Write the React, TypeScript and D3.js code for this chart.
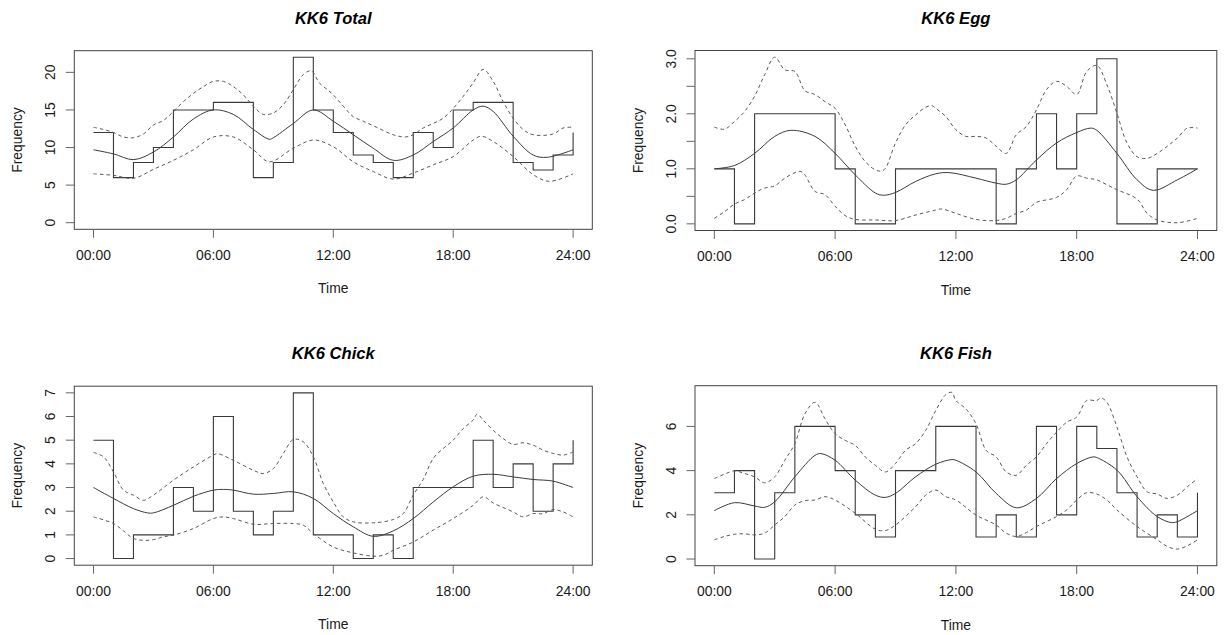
import React, { useEffect, useRef } from "react";
import * as d3 from "d3";

// hourly counts (bins 0-1, 1-2, ... 23-24)
const totalCounts = [12, 6, 8, 10, 15, 15, 16, 16, 6, 8, 22, 15, 12, 9, 8, 6, 12, 10, 15, 16, 16, 8, 7, 9];
const eggCounts = [1, 0, 2, 2, 2, 2, 1, 0, 0, 1, 1, 1, 1, 1, 0, 1, 2, 1, 2, 3, 0, 0, 1, 1];
const chickCounts = [5, 0, 1, 1, 3, 2, 6, 2, 1, 2, 7, 1, 1, 0, 1, 0, 3, 3, 3, 5, 3, 4, 2, 4];
const fishCounts = [3, 4, 0, 3, 6, 6, 4, 2, 1, 4, 4, 6, 6, 1, 2, 1, 6, 2, 6, 5, 3, 1, 2, 1];

// fitted density curve and confidence band, [hour, value]
const totalFit = [[0, 9.7], [1, 9.15], [2, 8.4], [3, 9.4], [4, 11.4], [5, 13.8], [6, 15.0], [7, 14.4], [8, 12.4], [8.8, 11.1], [9, 11.3], [10, 13.2], [11, 15.0], [12, 13.5], [13, 11.7], [14, 9.9], [15, 8.3], [16, 9.0], [17, 10.8], [18, 12.6], [19, 15.0], [19.5, 15.5], [20, 14.8], [21, 11.5], [22, 9.0], [22.7, 8.7], [24, 9.7]];
const totalUpper = [[0, 12.7], [0.5, 12.4], [1, 12.0], [1.5, 11.4], [2, 11.3], [2.5, 11.8], [3, 13.0], [3.5, 13.6], [4, 14.8], [4.5, 16.1], [5, 17.2], [5.5, 18.1], [6, 18.8], [6.5, 18.8], [7, 18.1], [7.5, 17.0], [8, 15.5], [8.5, 14.4], [9, 14.6], [9.5, 15.7], [10, 17.7], [10.5, 19.7], [10.9, 20.2], [11.3, 18.6], [11.7, 17.7], [12, 17.0], [12.5, 15.5], [13, 14.1], [13.5, 13.5], [14, 12.9], [15, 11.7], [15.6, 11.4], [16, 11.7], [16.5, 12.6], [17, 13.2], [17.5, 13.9], [18, 15.2], [18.5, 16.8], [19, 18.6], [19.5, 20.4], [20, 18.8], [20.5, 16.1], [21, 13.9], [21.5, 12.4], [22, 11.7], [23, 11.8], [23.5, 12.6], [24, 12.7]];
const totalLower = [[0, 6.5], [1, 6.3], [2, 5.9], [3, 7.1], [4, 8.3], [5, 9.7], [6, 11.4], [7, 11.4], [8, 9.7], [8.8, 8.1], [10, 9.9], [11, 11.0], [12, 10.1], [13, 8.1], [14, 6.8], [15, 5.8], [16, 6.6], [17, 7.7], [18, 8.8], [19, 11.0], [19.4, 11.5], [20, 10.8], [21, 8.8], [22, 6.4], [22.8, 5.5], [24, 6.5]];

const eggFit = [[0, 1.0], [1, 1.06], [2, 1.28], [3, 1.59], [3.8, 1.7], [5, 1.59], [6, 1.28], [7, 0.89], [8, 0.56], [8.4, 0.52], [9, 0.57], [10, 0.77], [11, 0.91], [11.7, 0.93], [13, 0.83], [14, 0.74], [14.5, 0.72], [15, 0.8], [16, 1.16], [17, 1.47], [18, 1.66], [18.7, 1.74], [19, 1.7], [20, 1.28], [21, 0.8], [21.8, 0.61], [23, 0.8], [24, 1.0]];
const eggUpper = [[0, 1.76], [0.5, 1.72], [1, 1.86], [1.5, 2.04], [2, 2.32], [2.5, 2.71], [3, 3.03], [3.5, 2.8], [4, 2.77], [4.5, 2.42], [5, 2.35], [5.5, 2.22], [6, 2.1], [6.5, 1.8], [7, 1.41], [7.5, 1.13], [8, 0.98], [8.3, 0.96], [8.5, 1.01], [9, 1.47], [9.5, 1.8], [10, 1.98], [10.5, 2.12], [10.8, 2.15], [11, 2.1], [11.5, 1.95], [12, 1.71], [12.5, 1.59], [13, 1.59], [13.5, 1.56], [14, 1.41], [14.5, 1.28], [15, 1.62], [15.5, 1.77], [16, 2.07], [16.5, 2.44], [17, 2.59], [17.5, 2.5], [18, 2.35], [18.5, 2.77], [19, 2.88], [19.5, 2.53], [20, 2.01], [20.5, 1.47], [21, 1.22], [21.5, 1.19], [22, 1.28], [22.5, 1.41], [23, 1.56], [23.5, 1.74], [24, 1.74]];
const eggLower = [[0, 0.1], [0.5, 0.22], [1, 0.36], [1.5, 0.44], [2, 0.56], [2.5, 0.65], [3, 0.69], [3.5, 0.83], [4, 0.93], [4.3, 0.95], [4.5, 0.89], [5, 0.59], [5.5, 0.53], [6, 0.32], [6.5, 0.15], [7, 0.08], [8, 0.07], [9, 0.06], [10, 0.16], [11, 0.25], [11.3, 0.27], [12, 0.19], [13, 0.08], [14, 0.06], [14.5, 0.1], [15, 0.19], [15.5, 0.25], [16, 0.39], [17, 0.48], [17.5, 0.62], [18, 0.87], [18.5, 0.83], [19, 0.8], [19.5, 0.71], [20, 0.62], [21, 0.45], [21.5, 0.19], [22, 0.07], [23, 0.02], [24, 0.1]];

const chickFit = [[0, 3.0], [1, 2.54], [2, 2.11], [2.7, 1.93], [3, 1.93], [4, 2.25], [5, 2.63], [6, 2.89], [6.5, 2.92], [7, 2.89], [8, 2.72], [9, 2.75], [10, 2.82], [11, 2.54], [12, 1.9], [13, 1.34], [14, 0.94], [15, 1.17], [16, 1.69], [17, 2.39], [18, 3.03], [19, 3.48], [20, 3.56], [21, 3.45], [22, 3.34], [23, 3.27], [24, 3.0]];
const chickUpper = [[0, 4.48], [0.5, 4.3], [1, 3.66], [1.5, 2.89], [2, 2.68], [2.5, 2.46], [3, 2.68], [4, 3.31], [5, 3.87], [6, 4.37], [6.2, 4.43], [7, 4.15], [8, 3.73], [8.5, 3.59], [9, 3.8], [9.5, 4.44], [10, 5.03], [10.5, 4.93], [11, 4.3], [11.5, 3.17], [12, 2.39], [12.5, 1.76], [13, 1.55], [14, 1.51], [15, 1.65], [15.5, 1.9], [16, 2.68], [16.5, 3.34], [17, 4.23], [17.5, 4.65], [18, 5.0], [18.5, 5.49], [19, 5.85], [19.2, 6.1], [19.5, 5.85], [20, 5.42], [20.5, 5.07], [21, 4.82], [21.5, 4.89], [22, 4.79], [22.5, 4.58], [23, 4.44], [23.5, 4.37], [24, 4.5]];
const chickLower = [[0, 1.76], [1, 1.48], [1.5, 1.17], [2, 0.85], [2.5, 0.77], [3, 0.8], [3.5, 0.92], [4, 0.99], [5, 1.27], [6, 1.69], [6.5, 1.76], [7, 1.69], [8, 1.45], [9, 1.48], [10, 1.48], [10.5, 1.41], [11, 1.06], [12, 0.49], [13, 0.24], [14, 0.1], [14.5, 0.14], [15, 0.35], [16, 0.7], [17, 1.2], [18, 1.69], [19, 2.25], [19.5, 2.61], [20, 2.35], [21, 1.97], [21.5, 1.76], [22, 1.9], [22.5, 1.9], [23, 2.07], [23.5, 1.97], [24, 1.76]];

const fishFit = [[0, 2.19], [1, 2.55], [2, 2.4], [2.5, 2.34], [3, 2.59], [4, 3.72], [5, 4.69], [5.3, 4.77], [6, 4.47], [7, 3.57], [8, 2.89], [8.5, 2.79], [9, 2.97], [10, 3.72], [11, 4.29], [11.8, 4.5], [12, 4.47], [13, 3.94], [14, 2.97], [15, 2.32], [16, 2.74], [17, 3.64], [18, 4.32], [18.8, 4.62], [19, 4.59], [20, 4.02], [21, 2.82], [22, 1.92], [22.7, 1.65], [23, 1.69], [24, 2.19]];
const fishUpper = [[0, 3.64], [0.5, 3.84], [1, 3.99], [1.5, 3.87], [2, 3.72], [2.5, 3.45], [3, 3.72], [3.5, 4.47], [4, 5.22], [4.5, 6.57], [5, 7.09], [5.5, 6.34], [6, 5.67], [6.5, 5.37], [7, 5.14], [7.5, 4.62], [8, 4.24], [8.5, 3.94], [9, 4.32], [9.5, 4.92], [10, 5.22], [10.5, 5.82], [11, 6.72], [11.5, 7.44], [11.8, 7.54], [12, 7.17], [12.5, 6.79], [13, 6.12], [13.5, 4.92], [14, 4.62], [14.5, 3.94], [15, 3.79], [15.5, 4.24], [16, 4.62], [16.5, 5.22], [17, 5.74], [17.5, 6.19], [18, 6.42], [18.5, 7.17], [19, 7.17], [19.2, 7.29], [19.5, 7.09], [20, 5.97], [20.5, 4.62], [21, 3.72], [21.5, 3.04], [22, 2.94], [22.5, 2.74], [23, 2.89], [23.5, 3.27], [24, 3.64]];
const fishLower = [[0, 0.87], [0.5, 1.02], [1, 1.12], [1.5, 1.14], [2, 1.09], [2.5, 1.17], [3, 1.54], [3.5, 1.92], [4, 2.44], [4.5, 2.64], [5, 2.67], [5.5, 2.82], [6, 2.67], [7, 2.07], [8, 1.35], [8.5, 1.29], [9, 1.54], [10, 2.37], [10.5, 2.89], [11, 3.12], [11.5, 2.82], [12, 2.67], [13, 1.99], [14, 1.54], [14.5, 1.17], [15, 1.02], [15.5, 1.2], [16, 1.47], [17, 1.92], [17.5, 2.22], [18, 2.67], [18.5, 3.0], [19, 2.94], [19.5, 2.67], [20, 2.22], [21, 1.47], [22, 0.87], [22.5, 0.57], [23, 0.45], [23.5, 0.6], [24, 0.87]];

const xTicks = [0, 6, 12, 18, 24];
const xTickLabels = ["00:00", "06:00", "12:00", "18:00", "24:00"];

const totalTicks = [0, 5, 10, 15, 20];
const totalTickLabels = ["0", "5", "10", "15", "20"];
const eggTicks = [0, 0.5, 1, 1.5, 2, 2.5, 3];
const eggTickLabels = ["0.0", "", "1.0", "", "2.0", "", "3.0"];
const chickTicks = [0, 1, 2, 3, 4, 5, 6, 7];
const chickTickLabels = ["0", "1", "2", "3", "4", "5", "6", "7"];
const fishTicks = [0, 2, 4, 6];
const fishTickLabels = ["0", "2", "4", "6"];

const panels = [
  { title: "KK6 Total", counts: totalCounts, fit: totalFit, upper: totalUpper, lower: totalLower, ticks: totalTicks, tickLabels: totalTickLabels, box: { l: 74.3, r: 592.3, t: 50.7, b: 229.3 } },
  { title: "KK6 Egg", counts: eggCounts, fit: eggFit, upper: eggUpper, lower: eggLower, ticks: eggTicks, tickLabels: eggTickLabels, box: { l: 695, r: 1216.8, t: 50.5, b: 230.5 } },
  { title: "KK6 Chick", counts: chickCounts, fit: chickFit, upper: chickUpper, lower: chickLower, ticks: chickTicks, tickLabels: chickTickLabels, box: { l: 74.3, r: 592.3, t: 386.2, b: 565.2 } },
  { title: "KK6 Fish", counts: fishCounts, fit: fishFit, upper: fishUpper, lower: fishLower, ticks: fishTicks, tickLabels: fishTickLabels, box: { l: 695, r: 1216.8, t: 385.7, b: 565.7 } },
];

const FONT = "'Liberation Sans', Arial, Helvetica, sans-serif";
const INK = "#1a1a1a";
const LINE = "#3a3a3a";
const LABEL_SIZE = 13.9;

export default function App() {
  const ref = useRef<SVGSVGElement>(null);

  useEffect(() => {
    const svg = d3.select(ref.current);
    svg.selectAll("*").remove();

    svg.append("rect").attr("width", 1225).attr("height", 635).attr("fill", "#fff");

    panels.forEach(p => {
      const { l, r, t, b } = p.box;
      const g = svg.append("g");

      const yMax = Math.max(d3.max(p.counts) as number, d3.max(p.upper, d => d[1]) as number);
      // R style 4% padding on each side
      const x = d3.scaleLinear().domain([-0.96, 24.96]).range([l, r]);
      const y = d3.scaleLinear().domain([-0.04 * yMax, 1.04 * yMax]).range([b, t]);

      // histogram steps, closing back to the first bin at 24:00
      const stepPts: [number, number][] = p.counts.map((c, i) => [i, c] as [number, number]);
      stepPts.push([24, p.counts[23]]);
      stepPts.push([24, p.counts[0]]);
      const step = d3.line<[number, number]>()
        .x(d => x(d[0]))
        .y(d => y(d[1]))
        .curve(d3.curveStepAfter);
      g.append("path")
        .attr("d", step(stepPts))
        .attr("fill", "none")
        .attr("stroke", LINE)
        .attr("stroke-width", 1.1);

      const smooth = d3.line<number[]>()
        .x(d => x(d[0]))
        .y(d => y(d[1]))
        .curve(d3.curveCatmullRom.alpha(0.5));

      g.append("path")
        .attr("d", smooth(p.fit))
        .attr("fill", "none")
        .attr("stroke", LINE)
        .attr("stroke-width", 1);

      [p.upper, p.lower].forEach(band => {
        g.append("path")
          .attr("d", smooth(band))
          .attr("fill", "none")
          .attr("stroke", "#5a5a5a")
          .attr("stroke-width", 1)
          .attr("stroke-dasharray", "3.5,3");
      });

      // box
      g.append("rect")
        .attr("x", l).attr("y", t)
        .attr("width", r - l).attr("height", b - t)
        .attr("fill", "none")
        .attr("stroke", "#444")
        .attr("stroke-width", 1);

      // x axis
      xTicks.forEach((v, i) => {
        g.append("line")
          .attr("x1", x(v)).attr("x2", x(v))
          .attr("y1", b).attr("y2", b + 8.5)
          .attr("stroke", "#666");
        g.append("text")
          .attr("x", x(v)).attr("y", b + 30.5)
          .attr("text-anchor", "middle")
          .attr("font-family", FONT)
          .attr("font-size", LABEL_SIZE)
          .attr("fill", INK)
          .text(xTickLabels[i]);
      });

      // y axis
      p.ticks.forEach((v, i) => {
        g.append("line")
          .attr("x1", l - 8.5).attr("x2", l)
          .attr("y1", y(v)).attr("y2", y(v))
          .attr("stroke", "#666");
        if (p.tickLabels[i]) {
          g.append("text")
            .attr("transform", `translate(${l - 19.5},${y(v)}) rotate(-90)`)
            .attr("text-anchor", "middle")
            .attr("font-family", FONT)
            .attr("font-size", LABEL_SIZE)
            .attr("fill", INK)
            .text(p.tickLabels[i]);
        }
      });

      g.append("text")
        .attr("x", (l + r) / 2).attr("y", b + 64)
        .attr("text-anchor", "middle")
        .attr("font-family", FONT)
        .attr("font-size", LABEL_SIZE)
        .attr("fill", INK)
        .text("Time");

      g.append("text")
        .attr("transform", `translate(${l - 52},${(t + b) / 2}) rotate(-90)`)
        .attr("text-anchor", "middle")
        .attr("font-family", FONT)
        .attr("font-size", LABEL_SIZE)
        .attr("fill", INK)
        .text("Frequency");

      g.append("text")
        .attr("x", (l + r) / 2).attr("y", t - 27)
        .attr("text-anchor", "middle")
        .attr("font-family", FONT)
        .attr("font-size", 16.6)
        .attr("font-weight", "bold")
        .attr("font-style", "italic")
        .attr("fill", "#000")
        .text(p.title);
    });
  }, []);

  return (
    <svg
      ref={ref}
      width={1225}
      height={635}
      style={{ position: "absolute", left: 0, top: 0, display: "block" }}
    />
  );
}
